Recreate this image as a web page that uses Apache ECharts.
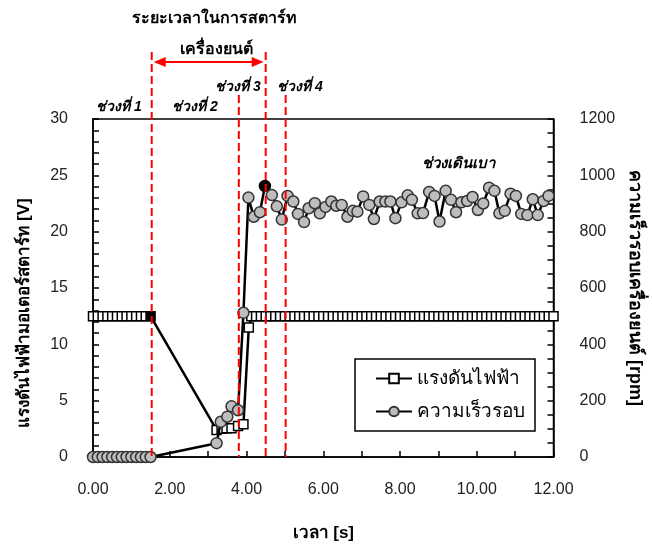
<!DOCTYPE html>
<html>
<head>
<meta charset="utf-8">
<script src="https://cdn.jsdelivr.net/npm/echarts@6/dist/echarts.min.js"></script>
<style>
  html, body { margin: 0; padding: 0; background: #fff; overflow: hidden; }
  #chart { width: 652px; height: 547px; }
</style>
</head>
<body>
<div id="chart"></div>
<script>
// Engine start-up log: starter motor voltage [V] and engine speed [rpm] versus time [s]

// Before cranking (engine stopped, battery at rest)
const restTime = [0, 0.125, 0.25, 0.375, 0.5, 0.625, 0.75, 0.875, 1, 1.125, 1.25, 1.375, 1.5];
const restVolt = [12.5, 12.5, 12.5, 12.5, 12.5, 12.5, 12.5, 12.5, 12.5, 12.5, 12.5, 12.5, 12.5];
const restRpm  = [0, 0, 0, 0, 0, 0, 0, 0, 0, 0, 0, 0, 0];

// Cranking: starter draws the voltage down
const crankVoltTime = [3.22, 3.35, 3.48, 3.61, 3.78, 3.92, 4.06];
const crankVolt     = [2.4, 2.5, 2.55, 2.55, 2.75, 2.9, 11.5];
const crankRpmTime  = [3.22, 3.33, 3.5, 3.61, 3.78, 3.92];
const crankRpm      = [49, 125, 143, 180, 166, 512];

// After start: voltage recovers
const chargeTime = [4.125, 4.25, 4.375, 4.5, 4.625, 4.75, 4.875, 5, 5.125, 5.25, 5.375, 5.5, 5.625, 5.75, 5.875, 6,
  6.125, 6.25, 6.375, 6.5, 6.625, 6.75, 6.875, 7, 7.125, 7.25, 7.375, 7.5, 7.625, 7.75, 7.875, 8,
  8.125, 8.25, 8.375, 8.5, 8.625, 8.75, 8.875, 9, 9.125, 9.25, 9.375, 9.5, 9.625, 9.75, 9.875, 10,
  10.125, 10.25, 10.375, 10.5, 10.625, 10.75, 10.875, 11, 11.125, 11.25, 11.375, 11.5, 11.625, 11.75, 11.875, 12];
const chargeVolt = [12.5, 12.5, 12.5, 12.5, 12.5, 12.5, 12.5, 12.5, 12.5, 12.5, 12.5, 12.5, 12.5, 12.5, 12.5, 12.5,
  12.5, 12.5, 12.5, 12.5, 12.5, 12.5, 12.5, 12.5, 12.5, 12.5, 12.5, 12.5, 12.5, 12.5, 12.5, 12.5,
  12.5, 12.5, 12.5, 12.5, 12.5, 12.5, 12.5, 12.5, 12.5, 12.5, 12.5, 12.5, 12.5, 12.5, 12.5, 12.5,
  12.5, 12.5, 12.5, 12.5, 12.5, 12.5, 12.5, 12.5, 12.5, 12.5, 12.5, 12.5, 12.5, 12.5, 12.5, 12.5];

// Engine running, settling into idle
const runTime = [4.05, 4.19, 4.35, 4.48, 4.66, 4.79, 4.92, 5.07, 5.22, 5.34, 5.5, 5.62, 5.78, 5.91, 6.06,
  6.21, 6.34, 6.48, 6.63, 6.77, 6.89, 7.04, 7.2, 7.32, 7.47, 7.62, 7.75, 7.88, 8.04, 8.2,
  8.31, 8.46, 8.6, 8.76, 8.9, 9.03, 9.19, 9.33, 9.46, 9.6, 9.75, 9.89, 10.03, 10.17, 10.32,
  10.46, 10.59, 10.73, 10.88, 11.02, 11.16, 11.32, 11.46, 11.59, 11.74, 11.87];
const runRpm = [921, 853, 869, 962, 930, 890, 843, 927, 907, 863, 834, 883, 901, 865, 888,
  907, 892, 895, 853, 874, 871, 925, 895, 845, 907, 907, 907, 848, 904, 929,
  913, 865, 866, 941, 927, 836, 945, 913, 869, 904, 909, 923, 877, 900, 956,
  945, 865, 874, 935, 927, 863, 859, 915, 859, 909, 927];

// Marked instants: start of cranking (voltage) and first firing peak (rpm)
const markedVoltTime = 1.5;
const markedRpmTime = 4.48;

// Phase boundaries (dashed red lines)
const phaseTimes = [1.53, 3.8, 4.5, 5.02];
const phaseLabels = ['ช่วงที่ 1', 'ช่วงที่ 2', 'ช่วงที่ 3', 'ช่วงที่ 4'];

const xTicks = [0, 2, 4, 6, 8, 10, 12];

const FONT = '"Liberation Sans", Arial, Tahoma, sans-serif';
const chart = echarts.init(document.getElementById('chart'), null, { renderer: 'canvas', width: 652, height: 547 });

function pairs(ts, vs, marked) {
  return ts.map((t, i) => {
    const item = { value: [t, vs[i]] };
    if (marked !== undefined && t === marked) {
      item.itemStyle = { color: '#000', borderColor: '#000' };
    }
    return item;
  });
}

const voltData = [].concat(
  pairs(restTime, restVolt, markedVoltTime),
  pairs(crankVoltTime, crankVolt),
  pairs(chargeTime, chargeVolt)
);
const rpmData = [].concat(
  pairs(restTime, restRpm),
  pairs(crankRpmTime, crankRpm),
  pairs(runTime, runRpm, markedRpmTime)
);

chart.setOption({
  animation: false,
  backgroundColor: '#fff',
  textStyle: { fontFamily: FONT },
  grid: {
    left: 93, right: 93, top: 119, bottom: 86,
    show: true, borderColor: '#000', borderWidth: 1.5, backgroundColor: 'transparent'
  },
  xAxis: {
    type: 'value', min: 0, max: 12, interval: 1,
    name: 'เวลา [s]', nameLocation: 'middle', nameGap: 68,
    nameTextStyle: { fontSize: 17, fontWeight: 'bold', color: '#000', fontFamily: FONT },
    axisLine: { show: true, lineStyle: { color: '#000', width: 1.5 } },
    axisTick: { show: true, inside: true, length: 6, lineStyle: { color: '#000', width: 1.5 } },
    axisLabel: {
      margin: 25, fontSize: 16, color: '#222', fontFamily: FONT,
      formatter: v => (xTicks.indexOf(v) >= 0 ? v.toFixed(2) : '')
    },
    splitLine: { show: false }
  },
  yAxis: [
    {
      type: 'value', min: 0, max: 30, interval: 1, position: 'left',
      name: 'แรงดันไฟฟ้ามอเตอร์สตาร์ท [V]', nameLocation: 'middle', nameGap: 60, nameRotate: 90,
      nameTextStyle: { fontSize: 17, fontWeight: 'bold', color: '#000', fontFamily: FONT, padding: [0, 0, 0, -50] },
      axisLine: { show: true, lineStyle: { color: '#000', width: 1.5 } },
      axisTick: { show: true, inside: true, length: 6, lineStyle: { color: '#000', width: 1.5 } },
      axisLabel: {
        margin: 25, fontSize: 16, color: '#222', fontFamily: FONT,
        formatter: v => (v % 5 === 0 ? String(v) : '')
      },
      splitLine: { show: false }
    },
    {
      type: 'value', min: 0, max: 1200, interval: 50, position: 'right',
      name: 'ความเร็วรอบเครื่องยนต์ [rpm]', nameLocation: 'middle', nameGap: 70, nameRotate: -90,
      nameTextStyle: { fontSize: 18, fontWeight: 'bold', color: '#000', fontFamily: FONT },
      axisLine: { show: true, lineStyle: { color: '#000', width: 1.5 } },
      axisTick: { show: true, inside: true, length: 6, lineStyle: { color: '#000', width: 1.5 } },
      axisLabel: {
        margin: 26, fontSize: 16, color: '#222', fontFamily: FONT,
        formatter: v => (v % 200 === 0 ? String(v) : '')
      },
      splitLine: { show: false }
    }
  ],
  legend: {
    left: 355, top: 359, orient: 'vertical',
    borderColor: '#000', borderWidth: 1.5, borderRadius: 0,
    padding: [10, 10, 10, 20], itemGap: 14,
    itemWidth: 36, itemHeight: 12,
    textStyle: { fontSize: 19, color: '#000', fontFamily: FONT },
    data: ['แรงดันไฟฟ้า', 'ความเร็วรอบ']
  },
  series: [
    {
      name: 'แรงดันไฟฟ้า', type: 'line', yAxisIndex: 0, data: voltData,
      symbol: 'rect', symbolSize: 9, clip: false, z: 3,
      lineStyle: { color: '#000', width: 2.5 },
      itemStyle: { color: '#fff', borderColor: '#000', borderWidth: 1.5 }
    },
    {
      name: 'ความเร็วรอบ', type: 'line', yAxisIndex: 1, data: rpmData,
      symbol: 'circle', symbolSize: 11, clip: false, z: 4,
      lineStyle: { color: '#000', width: 2.5 },
      itemStyle: { color: '#bdbdbd', borderColor: '#333', borderWidth: 1.5 }
    }
  ]
});

// Annotations placed through the axis scales
const xp = t => chart.convertToPixel({ xAxisIndex: 0 }, t);
const yBottom = chart.convertToPixel({ yAxisIndex: 0 }, 0);
const RED = '#ff0000';
const tallTop = 52, shortTop = 95, arrowY = 62;
const graphics = [];

phaseTimes.forEach((t, i) => {
  const x = xp(t);
  graphics.push({
    type: 'line', z: 10,
    shape: { x1: x, y1: (i % 2 === 0) ? tallTop : shortTop, x2: x, y2: yBottom },
    style: { stroke: RED, lineWidth: 2, lineDash: [8, 4] }
  });
});

// Double-headed arrow spanning the start-up window
const ax1 = xp(phaseTimes[0]) + 2, ax2 = xp(phaseTimes[2]) - 2;
graphics.push({
  type: 'line', z: 10,
  shape: { x1: ax1 + 8, y1: arrowY, x2: ax2 - 8, y2: arrowY },
  style: { stroke: RED, lineWidth: 2 }
});
graphics.push({
  type: 'polygon', z: 10,
  shape: { points: [[ax1, arrowY], [ax1 + 12, arrowY - 5], [ax1 + 12, arrowY + 5]] },
  style: { fill: RED }
});
graphics.push({
  type: 'polygon', z: 10,
  shape: { points: [[ax2, arrowY], [ax2 - 12, arrowY - 5], [ax2 - 12, arrowY + 5]] },
  style: { fill: RED }
});

function txt(text, x, y, font, align) {
  graphics.push({
    type: 'text', z: 11,
    style: { text, x, y, font, fill: '#000', textAlign: align || 'left', textVerticalAlign: 'middle' }
  });
}
const titleFont = 'bold 16px ' + FONT;
const phaseFont = 'italic bold 14px ' + FONT;
txt('ระยะเวลาในการสตาร์ท', 214, 19, titleFont, 'center');
txt('เครื่องยนต์', 216, 50, titleFont, 'center');
txt(phaseLabels[0], 96, 107, phaseFont);
txt(phaseLabels[1], 172, 107, phaseFont);
txt(phaseLabels[2], 215, 87, phaseFont);
txt(phaseLabels[3], 277, 87, phaseFont);
txt('ช่วงเดินเบา', 422, 164, 'italic bold 15px ' + FONT);

chart.setOption({ graphic: graphics });
</script>
</body>
</html>
